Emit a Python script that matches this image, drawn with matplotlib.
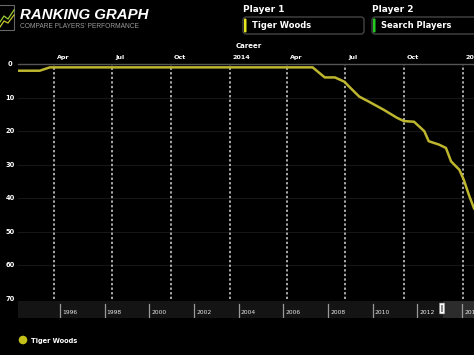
import matplotlib
matplotlib.use("Agg")
import matplotlib.pyplot as plt
import matplotlib.dates as mdates
from matplotlib.patches import FancyBboxPatch, Rectangle, Circle
import numpy as np
from datetime import datetime

# ---------------- data ----------------
dates = ["2013-02-03", "2013-03-09", "2013-03-25", "2014-05-11", "2014-05-30",
         "2014-06-15", "2014-06-30", "2014-07-07", "2014-07-23", "2014-08-07",
         "2014-08-31", "2014-09-20", "2014-10-01", "2014-10-17", "2014-11-02",
         "2014-11-09", "2014-11-25", "2014-12-06", "2014-12-14", "2014-12-27",
         "2015-01-03", "2015-01-11", "2015-01-19"]
ranks = [2, 2, 1, 1, 4, 4, 5.3, 6.7, 9.7, 11.2, 13.7, 16, 17, 17.2, 20,
         23, 24, 25, 29, 31.5, 34.5, 39, 43]
player = "Tiger Woods"
quarter_dates = ["2013-04-01", "2013-07-01", "2013-10-01", "2014-01-01",
                 "2014-04-01", "2014-07-01", "2014-10-01", "2015-01-01"]
quarter_labels = ["Apr", "Jul", "Oct", "2014", "Apr", "Jul", "Oct", "2015"]
y_ticks = [0, 10, 20, 30, 40, 50, 60, 70]
nav_years = [1996, 1998, 2000, 2002, 2004, 2006, 2008, 2010, 2012, 2014]

W, H = 474, 355
LINE_COLOR = "#bdb62e"

fig = plt.figure(figsize=(W / 100, H / 100), dpi=100, facecolor="black")

def fx(px):
    return px / W

def fy(py):
    return 1 - py / H

# ---------------- main axes ----------------
ax = fig.add_axes([fx(18), fy(299), fx(474) - fx(18), fy(64) - fy(299)])
ax.set_facecolor("black")
d = [datetime.strptime(s, "%Y-%m-%d") for s in dates]
xmin = datetime(2013, 2, 3)
xmax = datetime(2015, 1, 19)
ax.set_xlim(xmin, xmax)
ax.set_ylim(70, 0)

for yt in y_ticks[1:-1]:
    ax.axhline(yt, color="#161616", lw=0.8, zorder=0)

qd = [datetime.strptime(s, "%Y-%m-%d") for s in quarter_dates]
for q, lab in zip(qd, quarter_labels):
    ax.axvline(q, color="#d8d8d8", lw=1.1, linestyle=(0, (1.5, 1.5)), zorder=1)
    ax.annotate(lab, xy=(mdates.date2num(q), 0), xycoords="data",
                xytext=(2, 3), textcoords="offset points",
                color="white", fontsize=4.6, fontweight="bold",
                ha="left", va="bottom", annotation_clip=False)

ax.plot(d, ranks, color=LINE_COLOR, lw=1.8, zorder=3, solid_joinstyle="round")

for s in ["left", "right", "bottom"]:
    ax.spines[s].set_visible(False)
ax.spines["top"].set_color("#555555")
ax.spines["top"].set_linewidth(1.0)
ax.set_xticks([])
ax.set_yticks([])

for yt in y_ticks:
    fig.text(fx(10), fy(64 + yt * (235 / 70)), str(yt), color="white",
             fontsize=4.8, fontweight="bold", ha="center", va="center")

fig.text(fx(249), fy(46), "Career", color="white", fontsize=5,
         fontweight="bold", ha="center", va="center")

# ---------------- navigator ----------------
nav = fig.add_axes([fx(18), fy(318), fx(474) - fx(18), fy(301) - fy(318)])
nav.set_facecolor("#141414")
nav.set_xlim(1994.08, 2014.48)
nav.set_ylim(0, 1)
nav.add_patch(Rectangle((2013.1, 0), 2.0, 1, facecolor="#2c2c2c",
                        edgecolor="none", zorder=1))
for yr in nav_years:
    nav.plot([yr - 0.05, yr - 0.05], [0, 0.85], color="#9a9a9a", lw=0.9, zorder=2)
    nav.text(yr + 0.05, 0.3, str(yr), color="#e8e8e8", fontsize=4.3,
             ha="left", va="center", zorder=3)
nav.add_patch(FancyBboxPatch((2012.95, 0.25), 0.2, 0.62,
                             boxstyle="round,pad=0.0", facecolor="white",
                             edgecolor="#cccccc", lw=0.5, zorder=4))
nav.add_patch(Rectangle((2013.0, 0.37), 0.1, 0.38, facecolor="#888888",
                        edgecolor="none", zorder=5))
for s in nav.spines.values():
    s.set_visible(False)
nav.set_xticks([])
nav.set_yticks([])

# ---------------- header ----------------
ov = fig.add_axes([0, 0, 1, 1], facecolor="none")
ov.set_xlim(0, W)
ov.set_ylim(H, 0)
ov.axis("off")

# icon
ov.add_patch(Rectangle((-2, 5), 16, 25, facecolor="none", edgecolor="#666666", lw=0.8))
ov.plot([0, 4, 8, 14], [22, 16, 19, 10], color="#9acd32", lw=0.9)
ov.plot([0, 4, 8, 14], [27, 21, 23, 15], color="#c8c830", lw=0.9)

ov.text(20, 15, "RANKING GRAPH", color="white", fontsize=10.8,
        fontweight="bold", fontstyle="italic", ha="left", va="center",
        family="Liberation Sans")
ov.text(20, 27, "COMPARE PLAYERS' PERFORMANCE", color="#9a9a9a",
        fontsize=4.8, ha="left", va="center", family="Liberation Sans")

# player boxes
ov.text(243, 9, "Player 1", color="white", fontsize=6.5, fontweight="bold",
        ha="left", va="center")
ov.add_patch(FancyBboxPatch((243, 17), 121, 17, boxstyle="round,pad=0,rounding_size=3",
                            facecolor="black", edgecolor="#444444", lw=1.0))
ov.add_patch(FancyBboxPatch((244, 18.5), 2.5, 14, boxstyle="round,pad=0,rounding_size=1",
                            facecolor="#e6e61e", edgecolor="none"))
ov.text(252, 25.5, "Tiger Woods", color="white", fontsize=6, fontweight="bold",
        ha="left", va="center")

ov.text(372, 9, "Player 2", color="white", fontsize=6.5, fontweight="bold",
        ha="left", va="center")
ov.add_patch(FancyBboxPatch((372, 17), 110, 17, boxstyle="round,pad=0,rounding_size=3",
                            facecolor="black", edgecolor="#444444", lw=1.0))
ov.add_patch(FancyBboxPatch((373, 18.5), 2.5, 14, boxstyle="round,pad=0,rounding_size=1",
                            facecolor="#22cc22", edgecolor="none"))
ov.text(381, 25.5, "Search Players", color="white", fontsize=6, fontweight="bold",
        ha="left", va="center")

# legend
ov.add_patch(Circle((23, 340), 4.3, facecolor="#c4c21a", edgecolor="none"))
ov.text(31, 340.5, player, color="white", fontsize=4.8, fontweight="bold",
        ha="left", va="center")

fig.savefig("out.png", dpi=100, facecolor="black")
